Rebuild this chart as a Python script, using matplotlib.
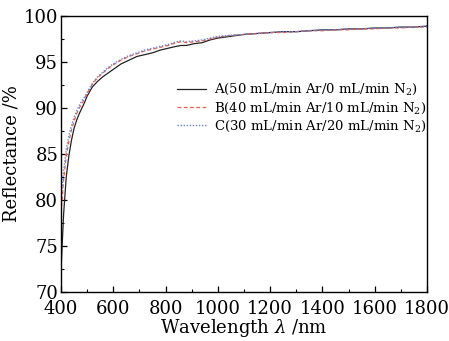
import matplotlib
matplotlib.use("Agg")
import matplotlib.pyplot as plt
from matplotlib.ticker import MultipleLocator

wavelength = [400, 410, 420, 430, 440, 450, 460, 470, 480, 490, 500, 520, 540, 560, 580, 600,
              630, 660, 690, 720, 750, 780, 810, 840, 860, 880, 910, 940, 970, 1000, 1050, 1100,
              1150, 1200, 1250, 1300, 1350, 1400, 1450, 1500, 1550, 1600, 1650, 1700, 1750, 1800]
refl_A = [72.4, 78.5, 82.5, 84.8, 86.5, 87.8, 88.7, 89.4, 90.0, 90.6, 91.3, 92.3, 92.9, 93.4, 93.8, 94.2,
          94.8, 95.2, 95.6, 95.8, 96.0, 96.3, 96.5, 96.7, 96.8, 96.8, 97.0, 97.1, 97.4, 97.6, 97.8, 98.0,
          98.1, 98.2, 98.3, 98.3, 98.4, 98.5, 98.5, 98.6, 98.6, 98.7, 98.7, 98.8, 98.8, 98.9]
refl_B = [78.6, 82.2, 84.8, 86.4, 87.6, 88.6, 89.4, 90.0, 90.5, 91.0, 91.6, 92.6, 93.3, 93.8, 94.3, 94.7,
          95.2, 95.6, 95.9, 96.2, 96.4, 96.6, 96.8, 97.1, 97.2, 97.1, 97.2, 97.3, 97.5, 97.7, 97.9, 98.0,
          98.1, 98.2, 98.2, 98.3, 98.4, 98.4, 98.5, 98.5, 98.6, 98.6, 98.7, 98.7, 98.8, 98.8]
refl_C = [80.2, 83.2, 85.5, 87.0, 88.1, 89.0, 89.7, 90.3, 90.8, 91.2, 91.7, 92.7, 93.4, 93.9, 94.4, 94.8,
          95.3, 95.7, 96.0, 96.3, 96.5, 96.7, 96.9, 97.2, 97.3, 97.2, 97.3, 97.4, 97.6, 97.8, 97.9, 98.0,
          98.1, 98.2, 98.3, 98.3, 98.4, 98.5, 98.5, 98.6, 98.6, 98.7, 98.7, 98.8, 98.8, 98.9]
labels = ["A(50 mL/min Ar/0 mL/min N$_2$)",
          "B(40 mL/min Ar/10 mL/min N$_2$)",
          "C(30 mL/min Ar/20 mL/min N$_2$)"]

plt.rcParams['font.family'] = ['DejaVu Serif']
plt.rcParams['mathtext.fontset'] = 'dejavuserif'

fig = plt.figure(figsize=(4.49, 3.41), dpi=100)
ax = fig.add_axes([0.1359, 0.1437, 0.8151, 0.8093])

ax.plot(wavelength, refl_A, color='#222222', lw=0.9, ls='-', label=labels[0])
ax.plot(wavelength, refl_B, color='#e8604a', lw=0.9, ls=(0, (3, 2)), label=labels[1])
ax.plot(wavelength, refl_C, color='#6a80d8', lw=1.0, ls=(0, (1, 1.2)), label=labels[2])

ax.set_xlim(400, 1800)
ax.set_ylim(70, 100)
ax.xaxis.set_major_locator(MultipleLocator(200))
ax.xaxis.set_minor_locator(MultipleLocator(100))
ax.yaxis.set_major_locator(MultipleLocator(5))
ax.yaxis.set_minor_locator(MultipleLocator(2.5))
ax.tick_params(which='both', direction='in', top=False, right=False, labelsize=13)
ax.tick_params(axis='x', which='major', pad=6)
ax.tick_params(axis='y', which='major', pad=2)
ax.tick_params(which='major', length=4, width=0.9)
ax.tick_params(which='minor', length=2.5, width=0.8)
for s in ax.spines.values():
    s.set_linewidth(1.0)

ax.set_xlabel('Wavelength $\\lambda$ /nm', fontsize=13, labelpad=-1)
ax.set_ylabel('Reflectance /%', fontsize=13, labelpad=2)

ax.legend(loc='upper left', bbox_to_anchor=(0.303, 0.78), frameon=False, fontsize=9.5,
          handlelength=2.2, handletextpad=0.6, labelspacing=0.25, borderaxespad=0)

fig.savefig('out.png', dpi=100)
